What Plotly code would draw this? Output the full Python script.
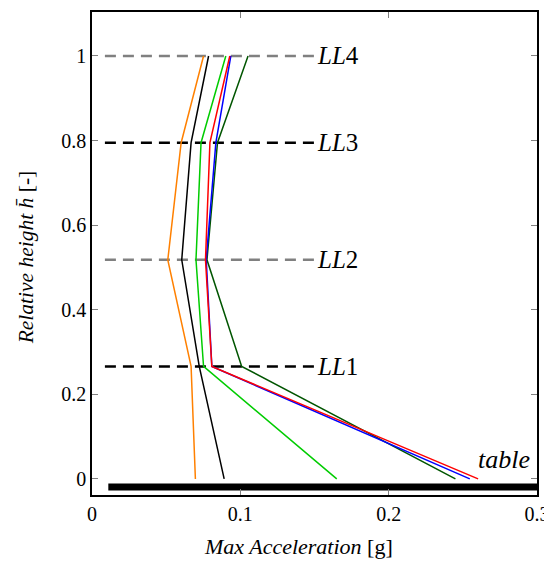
import plotly.graph_objects as go

heights = [0.0, 0.266, 0.518, 0.795, 1.0]
series_orange = [0.0697, 0.0668, 0.0511, 0.0601, 0.0752]
series_black = [0.0891, 0.0723, 0.0605, 0.0668, 0.0786]
series_green = [0.165, 0.0752, 0.0701, 0.0735, 0.0902]
series_darkgreen = [0.245, 0.1009, 0.0775, 0.0846, 0.1052]
series_blue = [0.2547, 0.0808, 0.0770, 0.0835, 0.0936]
series_red = [0.2603, 0.0808, 0.0765, 0.0795, 0.0929]

level_names = ["LL1", "LL2", "LL3", "LL4"]
level_heights = [0.266, 0.518, 0.795, 1.0]
level_colors = ["black", "gray", "black", "gray"]
level_x = [0.0087, 0.15]

table_y = -0.019
table_x = [0.011, 0.3]

x_ticks = [0, 0.1, 0.2, 0.3]
y_ticks = [0, 0.2, 0.4, 0.6, 0.8, 1.0]

FONT = "Liberation Serif"

fig = go.Figure()

# table line
fig.add_trace(go.Scatter(x=table_x, y=[table_y, table_y], mode="lines",
                         line=dict(color="black", width=7), hoverinfo="skip"))

# level lines
for name, h, c in zip(level_names, level_heights, level_colors):
    fig.add_trace(go.Scatter(x=level_x, y=[h, h], mode="lines",
                             line=dict(color=c, width=2.5, dash="11px,7px")))
    fig.add_annotation(x=level_x[1], y=h, xref="x", yref="y",
                       text="<i>LL</i>" + name[2:], showarrow=False,
                       xanchor="left", yanchor="middle", xshift=0,
                       font=dict(family=FONT, size=25, color="black"))

series = [
    (series_orange, "#FF8000"),
    (series_black, "black"),
    (series_green, "#00CC00"),
    (series_darkgreen, "#005500"),
    (series_blue, "blue"),
    (series_red, "red"),
]
for vals, col in series:
    fig.add_trace(go.Scatter(x=vals, y=heights, mode="lines",
                             line=dict(color=col, width=1.5)))

fig.add_annotation(x=0.2967, y=0.045, xref="x", yref="y", text="<i>table</i>",
                   showarrow=False, xanchor="right", yanchor="middle",
                   font=dict(family=FONT, size=26, color="black"))

# axis titles
fig.add_annotation(x=0.464, y=0, xref="paper", yref="paper", yshift=-51,
                   text="<i>Max Acceleration</i> [g]", showarrow=False,
                   xanchor="center", yanchor="middle",
                   font=dict(family=FONT, size=22, color="black"))
fig.add_annotation(x=-0.1496, y=0.493, xref="paper", yref="paper", textangle=-90,
                   text="<i>Relative height h̄</i> [-]", showarrow=False,
                   xanchor="center", yanchor="middle",
                   font=dict(family=FONT, size=21.5, color="black"))

fig.update_layout(
    width=544, height=553,
    margin=dict(l=84, r=12, t=2, b=66),
    paper_bgcolor="white", plot_bgcolor="white",
    showlegend=False,
    font=dict(family=FONT, size=20, color="black"),
    xaxis=dict(range=[0, 0.3], tickvals=x_ticks, ticktext=["0", "0.1", "0.2", "0.3"],
               ticks="inside", ticklen=6, tickcolor="gray", mirror="ticks",
               tickfont=dict(family=FONT, size=20), ticklabeloverflow="allow",
               showline=True, linecolor="black", linewidth=1.5, showgrid=False, zeroline=False),
    yaxis=dict(range=[-0.038, 1.104], tickvals=y_ticks,
               ticktext=["0", "0.2", "0.4", "0.6", "0.8", "1"],
               ticks="inside", ticklen=6, tickcolor="gray", mirror="ticks",
               tickfont=dict(family=FONT, size=20),
               showline=True, linecolor="black", linewidth=1.5, showgrid=False, zeroline=False),
)

fig.write_html("out.html")
